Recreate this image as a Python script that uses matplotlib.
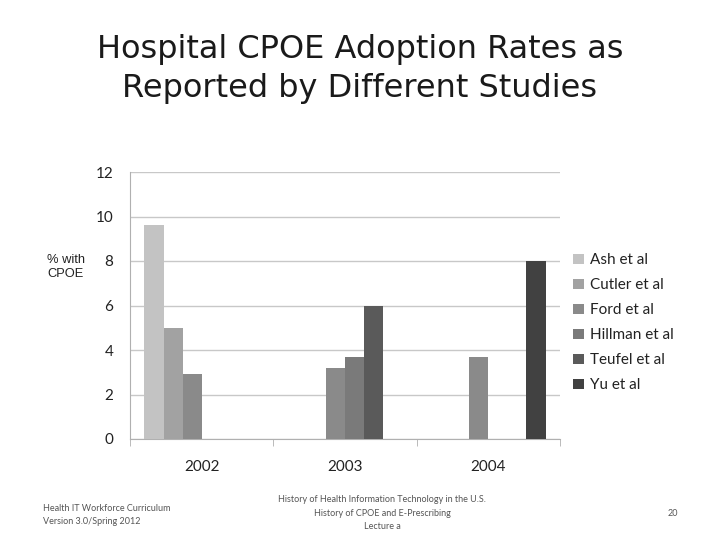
import numpy as np
import matplotlib
matplotlib.use('Agg')
import matplotlib.pyplot as plt

years = ['2002', '2003', '2004']
studies = ['Ash et al', 'Cutler et al', 'Ford et al', 'Hillman et al', 'Teufel et al', 'Yu et al']
ash = [9.6, 0, 0]
cutler = [5.0, 0, 0]
ford = [2.9, 3.2, 3.7]
hillman = [0, 3.7, 0]
teufel = [0, 6.0, 0]
yu = [0, 0, 8.0]
colors = ['#c3c3c3', '#a2a2a2', '#8a8a8a', '#7a7a7a', '#5a5a5a', '#414141']

fig = plt.figure(figsize=(7.2, 5.4), dpi=100)
ax = fig.add_axes([130 / 720, 101 / 540, 430 / 720, 267 / 540])

x = np.arange(len(years))
w = 0.133
series = [ash, cutler, ford, hillman, teufel, yu]
for i, (name, vals, c) in enumerate(zip(studies, series, colors)):
    ax.bar(x + (i - 2.5) * w, vals, w, color=c, label=name, zorder=3)

ax.set_xlim(-0.5, 2.5)
ax.set_ylim(0, 12)
ax.set_yticks(range(0, 13, 2))
ax.yaxis.grid(True, color='#c8c8c8', linewidth=1)
ax.set_axisbelow(True)
for s in ['top', 'right']:
    ax.spines[s].set_visible(False)
ax.spines['left'].set_color('#b0b0b0')
ax.spines['bottom'].set_color('#b0b0b0')

# ticks between groups on the x axis
ax.set_xticks(x)
ax.set_xticklabels(years, fontfamily='Lato', fontsize=11, color='#222222')
ax.tick_params(axis='x', length=0, pad=15)
ax.set_xticks([-0.5, 0.5, 1.5, 2.5], minor=True)
ax.tick_params(axis='x', which='minor', length=5, color='#b0b0b0', direction='out')
ax.tick_params(axis='y', length=0, pad=12, labelsize=11, labelcolor='#222222')
for lab in ax.get_yticklabels():
    lab.set_fontfamily('Lato')

fig.text(66 / 720, 1 - 267 / 540, '% with\nCPOE', ha='center', va='center',
         fontsize=9.3, family='Liberation Sans', color='#222222', linespacing=1.25)

ax.legend(loc='center left', bbox_to_anchor=(1.0, 0.435), frameon=False,
          prop={'family': 'Lato', 'size': 11}, handlelength=0.7, handleheight=0.7,
          labelspacing=0.72, handletextpad=0.4, labelcolor='#222222',
          borderaxespad=0.45)

fig.text(0.5, 1 - 69 / 540, 'Hospital CPOE Adoption Rates as\nReported by Different Studies',
         ha='center', va='center', fontsize=23, family='DejaVu Sans', color='#1a1a1a',
         linespacing=1.3)

fig.text(43 / 720, 1 - 515 / 540, 'Health IT Workforce Curriculum\nVersion 3.0/Spring 2012',
         ha='left', va='center', fontsize=6.5, family='Lato', color='#555555',
         linespacing=1.6)
fig.text(382 / 720, 1 - 513 / 540,
         'History of Health Information Technology in the U.S.\nHistory of CPOE and E-Prescribing\nLecture a',
         ha='center', va='center', fontsize=6.5, family='Lato', color='#555555', linespacing=1.7)
fig.text(673 / 720, 1 - 514 / 540, '20', ha='center', va='center', fontsize=6.5,
         family='Lato', color='#555555')

fig.savefig('out.png', dpi=100)
